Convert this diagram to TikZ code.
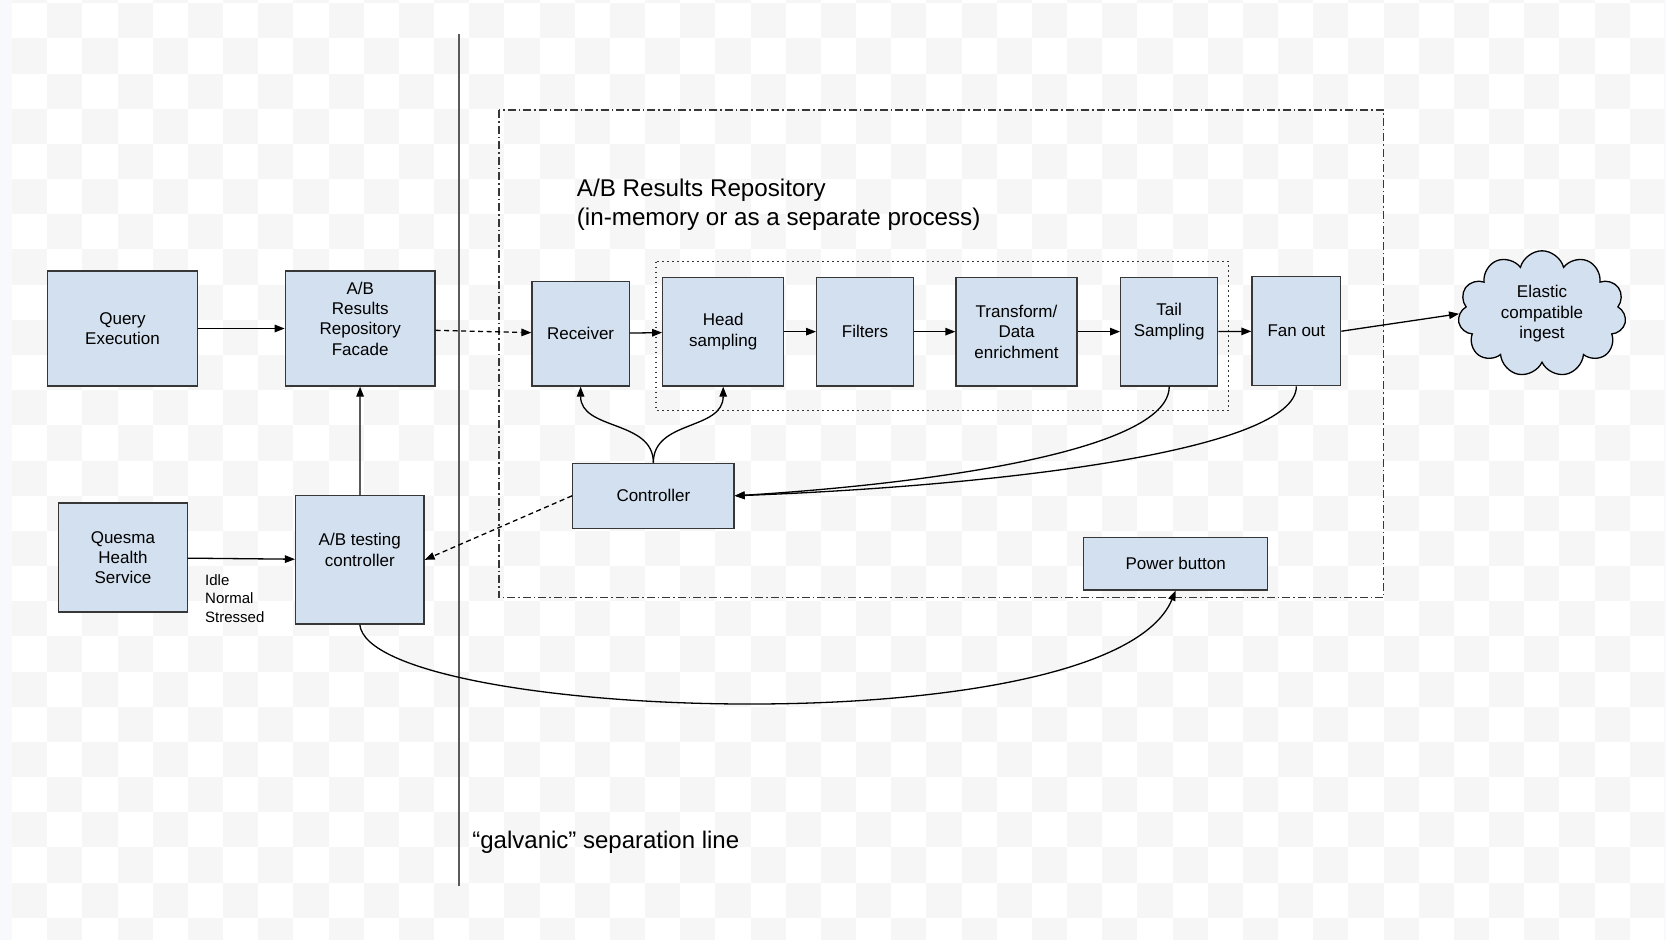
\documentclass[tikz,border=0pt]{standalone}
\usepackage{fontspec}
\setmainfont{Liberation Sans}
\usetikzlibrary{arrows.meta,shapes.symbols}
\definecolor{boxblue}{RGB}{211,224,239}
\definecolor{boxline}{RGB}{55,55,55}
\definecolor{checker}{RGB}{246,246,246}
\definecolor{sepline}{RGB}{90,90,90}
\definecolor{edgestrip}{RGB}{247,249,252}
\tikzset{
  blk/.style={draw=boxline,fill=boxblue,line width=1.3pt,inner sep=0pt,align=center,font=\fontsize{17}{20.3}\selectfont},
  lbl/.style={align=center,inner sep=0pt,font=\fontsize{17}{20.3}\selectfont,yshift=10pt},
  arr/.style={-{Triangle[length=10pt,width=7.5pt]},line width=1.3pt},
  dsh/.style={arr,dash pattern=on 5pt off 3.5pt},
}
\begin{document}
\begin{tikzpicture}[x=1pt,y=-1pt]
  \useasboundingbox (0,0) rectangle (1666,940);
  % transparency checkerboard
  \fill[edgestrip] (0,0) rectangle (1666,940);
  \fill[white] (12,0) rectangle (1664,940);
  \begin{scope}
    \clip (12,0) rectangle (1664,940);
    \foreach \j in {-1,...,26} {
      \pgfmathtruncatemacro{\ia}{mod(\j+1,2)}
      \pgfmathtruncatemacro{\ib}{\ia+2}
      \foreach \i in {\ia,\ib,...,46}
        \fill[checker] ({12+35.17*\i},{3.3+35.17*\j}) rectangle +(35.17,35.17);
    }
  \end{scope}
  % separation line and frames
  \draw[sepline,line width=2pt] (459,34) -- (459,885.7);
  \draw[boxline,line width=1.3pt,dash pattern=on 8pt off 3pt on 1.5pt off 3pt] (499,110) rectangle (1383.7,597.7);
  \draw[boxline,line width=1.3pt,dash pattern=on 1.5pt off 3.5pt] (656,261.7) rectangle (1228.7,410.3);
  \node[anchor=west,align=left,inner sep=0pt,font=\fontsize{24.2}{29.7}\selectfont] (title) at (576.7,204.6) {A/B Results Repository\\(in-memory or as a separate process)};
  \node[anchor=base west,inner sep=0pt,font=\fontsize{24}{28}\selectfont] (galvanic) at (472.2,848) {“galvanic” separation line};
  \node[anchor=west,align=left,inner sep=0pt,font=\fontsize{15}{18.5}\selectfont] (states) at (205,598.3) {Idle\\Normal\\Stressed};
  % boxes
  \node[blk,minimum width=149.6pt,minimum height=115pt] (query) at (122.5,328.5) {Query\\Execution};
  \node[blk,minimum width=149.7pt,minimum height=115pt,label={[lbl]center:{A/B\\Results\\Repository\\Facade}}] (facade) at (360.2,328.5) {};
  \node[blk,minimum width=97.2pt,minimum height=104.3pt] (receiver) at (580.6,333.85) {Receiver};
  \node[blk,minimum width=121pt,minimum height=108.7pt] (head) at (723.2,331.65) {Head\\sampling};
  \node[blk,minimum width=96.7pt,minimum height=108.7pt] (filters) at (865,331.65) {Filters};
  \node[blk,minimum width=121pt,minimum height=108.7pt] (transform) at (1016.5,331.65) {Transform/\\Data\\enrichment};
  \node[blk,minimum width=97pt,minimum height=108.7pt,label={[lbl]center:{Tail\\Sampling}}] (tail) at (1169.2,331.65) {};
  \node[blk,minimum width=88.7pt,minimum height=109pt] (fanout) at (1296.35,331.2) {Fan out};
  \node[blk,minimum width=161.3pt,minimum height=65pt] (controller) at (653.35,495.8) {Controller};
  \node[blk,minimum width=128.8pt,minimum height=109pt] (quesma) at (122.9,557.5) {Quesma\\Health\\Service};
  \node[blk,minimum width=128.4pt,minimum height=128.3pt,label={[lbl]center:{A/B testing\\controller}}] (abctrl) at (359.8,559.85) {};
  \node[blk,minimum width=183.7pt,minimum height=52.3pt] (power) at (1175.65,563.85) {Power button};
  \node[cloud,cloud puffs=11,cloud ignores aspect,draw=black,fill=boxblue,line width=1.3pt,minimum width=168pt,minimum height=126pt,inner sep=0pt,align=center,font=\fontsize{17}{20.3}\selectfont] (elastic) at (1542,313.8) {Elastic\\compatible\\ingest};
  % connectors
  \draw[arr] (query) -- (facade);
  \draw[arr] (quesma) -- (abctrl);
  \draw[arr] (abctrl) -- (facade);
  \draw[dsh] (facade) -- (receiver);
  \draw[arr] (receiver) -- (head);
  \draw[arr] (head) -- (filters);
  \draw[arr] (filters) -- (transform);
  \draw[arr] (transform) -- (tail);
  \draw[arr] (tail) -- (fanout);
  \draw[arr] (fanout.east) -- (elastic.west);
  \draw[dsh] (controller.west) -- (abctrl.east);
  \draw[arr] (controller.north) .. controls +(0,-43) and +(0,44) .. (receiver.south);
  \draw[arr] (controller.north) .. controls +(0,-43) and +(0,44) .. (head.south);
  \draw[arr] (tail.south) .. controls +(0,64) and +(196,-12) .. (controller.east);
  \draw[arr] (fanout.south) .. controls +(0,64) and +(266,-10) .. (controller.east);
  \draw[arr] (abctrl.south) .. controls +(10,96) and +(-66,158) .. (power.south);
\end{tikzpicture}
\end{document}
